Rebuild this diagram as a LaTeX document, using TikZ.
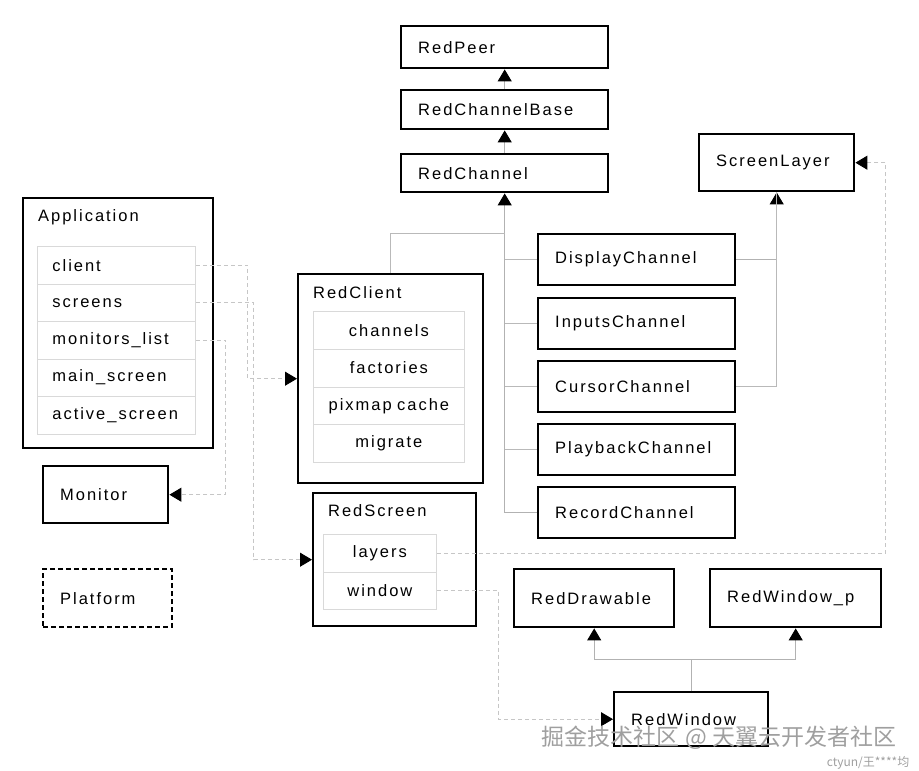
\documentclass[tikz,border=0pt]{standalone}
\usepackage{fontspec}
\newfontfamily\diagfont{Liberation Sans}[LetterSpace=12]
\newfontfamily\cjkfont{Noto Sans CJK SC}
\usetikzlibrary{arrows.meta}

\newcommand{\lblfont}{\diagfont\fontsize{16.5}{19}\selectfont}

\begin{document}
\begin{tikzpicture}[x=1pt, y=-1pt,
		cls/.style={draw, line width=2.4pt, anchor=north west, inner xsep=17pt, inner ysep=0pt, align=left, font=\lblfont},
		frame/.style={draw, line width=2.4pt, anchor=north west, inner sep=0pt},
		row/.style={draw=gray!30, line width=0.8pt, anchor=north west, inner xsep=15pt, inner ysep=0pt, align=left, font=\lblfont},
		crow/.style={draw=gray!30, line width=0.8pt, anchor=north west, inner xsep=0pt, inner ysep=0pt, align=center, font=\lblfont},
		ttl/.style={anchor=west, inner sep=0pt, font=\lblfont},
		inh/.style={draw=gray!60, line width=0.9pt, -{Triangle[width=14pt, length=12pt, color=black]}},
		inhl/.style={draw=gray!55, line width=0.9pt},
		dep/.style={draw=gray!45, line width=0.9pt, dash pattern=on 4pt off 3pt, -{Triangle[width=14pt, length=12pt, color=black]}}]
		\useasboundingbox (0,0) rectangle (919,771);
		
		% Channel hierarchy
		\node[cls, text width=173pt, minimum height=42pt] (peer) at (400,25) {RedPeer};
		\node[cls, text width=173pt, minimum height=39pt] (rcb) at (400,89) {RedChannelBase};
		\node[cls, text width=173pt, minimum height=38pt] (rch) at (400,153) {RedChannel};
		\node[cls, text width=121pt, minimum height=57pt] (layer) at (698,133) {ScreenLayer};
		
		\node[cls, text width=163pt, minimum height=51pt] (disp) at (537,233) {DisplayChannel};
		\node[cls, text width=163pt, minimum height=51pt] (inp) at (537,297) {InputsChannel};
		\node[cls, text width=163pt, minimum height=51pt] (cur) at (537,360) {CursorChannel};
		\node[cls, text width=163pt, minimum height=51pt] (play) at (537,423) {PlaybackChannel};
		\node[cls, text width=163pt, minimum height=51pt] (rec) at (537,486) {RecordChannel};
		
		% Application with its members
		\node[frame, minimum width=190pt, minimum height=250pt] (app) at (22,197) {};
		\node[ttl] (app-t) at (38,217) {Application};
		\node[row, text width=128pt, minimum height=37.5pt] (app-client) at (37,246) {client};
		\node[row, text width=128pt, minimum height=37.5pt] (app-screens) at (37,283.5) {screens};
		\node[row, text width=128pt, minimum height=37.5pt] (app-mon) at (37,321) {monitors\_list};
		\node[row, text width=128pt, minimum height=37.5pt] (app-main) at (37,358.5) {main\_screen};
		\node[row, text width=128pt, minimum height=37.5pt] (app-active) at (37,396) {active\_screen};
		
		\node[cls, text width=91pt, minimum height=57pt] (mon) at (42,465) {Monitor};
		\node[cls, dashed, dash pattern=on 5pt off 3pt, text width=95pt, minimum height=58pt] (plat) at (42,568) {Platform};
		
		% RedClient
		\node[frame, minimum width=185pt, minimum height=209pt] (rc) at (297,273) {};
		\node[ttl] (rc-t) at (313,293) {RedClient};
		\node[crow, text width=151pt, minimum height=37.75pt] (rc-ch) at (313,311) {channels};
		\node[crow, text width=151pt, minimum height=37.75pt] (rc-fac) at (313,348.75) {factories};
		\node[crow, text width=151pt, minimum height=37.75pt] (rc-pix) at (313,386.5) {pixmap cache};
		\node[crow, text width=151pt, minimum height=37.75pt] (rc-mig) at (313,424.25) {migrate};
		
		% RedScreen
		\node[frame, minimum width=163pt, minimum height=133pt] (rs) at (312,492) {};
		\node[ttl] (rs-t) at (328,511) {RedScreen};
		\node[crow, text width=113pt, minimum height=37.5pt] (rs-layers) at (323,534) {layers};
		\node[crow, text width=113pt, minimum height=37.5pt] (rs-win) at (323,571.5) {window};
		
		% Window classes
		\node[cls, text width=126pt, minimum height=58pt] (rdraw) at (513,568) {RedDrawable};
		\node[cls, text width=137pt, minimum height=58pt] (winp) at (709,568) {RedWindow\_p};
		\node[cls, text width=120pt, minimum height=54pt] (win) at (613,691) {RedWindow};
		
		% Inheritance
		\draw[inh] (rcb.north) -- (peer.south);
		\draw[inh] (rch.north) -- (rcb.south);
		\draw[inh] (rec.west) -| (rch.south);
		\draw[inhl] (disp.west) -- (disp.west -| rch.south);
		\draw[inhl] (inp.west) -- (inp.west -| rch.south);
		\draw[inhl] (cur.west) -- (cur.west -| rch.south);
		\draw[inhl] (play.west) -- (play.west -| rch.south);
		\draw[inhl] (rc.north) |- (rch.south |- disp.north);
		\draw[inh] (disp.east) -| (layer.south);
		\draw[inhl] (cur.east) -| (layer.south);
		\draw[inh] (win.north) -- ++(0,-32) -| (rdraw.south);
		\draw[inh] (win.north) -- ++(0,-32) -| (winp.south);
		
		% Members pointing to other classes
		\draw[dep] (app-client.east) -- ++(52,0) |- (rc.west);
		\draw[dep] (app-screens.east) -- ++(58,0) |- (rs.west);
		\draw[dep] (app-mon.east) -- ++(30,0) |- (mon.east);
		\draw[dep] (rs-layers.east) -- ++(449,0) |- (layer.east);
		\draw[dep] (rs-win.east) -- ++(62,0) |- (win.west);
		
		% Watermark
		\node[font=\cjkfont\fontsize{23}{25}\selectfont, text=gray!75, inner sep=0pt] (wm) at (719,738) {掘金技术社区 @ 天翼云开发者社区};
		\node[font=\cjkfont\fontsize{12}{14}\selectfont, text=gray!75, inner sep=0pt] (wm-id) at (868,763) {ctyun/王****均};
	\end{tikzpicture}
\end{document}
